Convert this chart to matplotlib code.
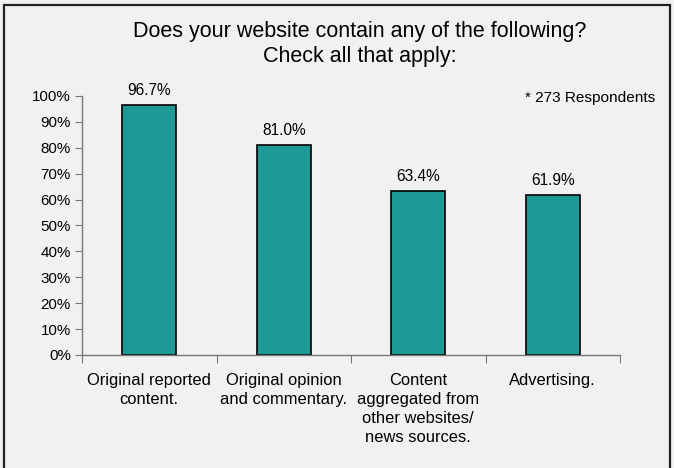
import numpy as np
import matplotlib.pyplot as plt
from matplotlib.patches import Rectangle
from matplotlib.ticker import PercentFormatter

categories = ["Original reported\ncontent.", "Original opinion\nand commentary.",
              "Content\naggregated from\nother websites/\nnews sources.", "Advertising."]
values = [96.7, 81.0, 63.4, 61.9]
yticks = list(range(0, 101, 10))

plt.rcParams['font.family'] = ['Liberation Sans', 'DejaVu Sans']
bg = '#f0f1f0'
fig = plt.figure(figsize=(6.74, 4.68), dpi=100, facecolor=bg)
ax = fig.add_axes([82/674, 1 - 355/468, 538/674, 259/468])
ax.set_facecolor(bg)

x = np.arange(len(categories))
bars = ax.bar(x, values, width=0.4, color='#1e9a96', edgecolor='black', linewidth=1.2)
for b, v in zip(bars, values):
    ax.text(b.get_x() + b.get_width()/2, v + 2.6, f"{v:.1f}%", ha='center', va='bottom', fontsize=11.2)

ax.set_xlim(-0.5, len(categories) - 0.5)
ax.set_ylim(0, 100)
ax.set_yticks(yticks)
ax.yaxis.set_major_formatter(PercentFormatter(decimals=0))
ax.set_xticks(np.arange(len(categories) + 1) - 0.5)
ax.set_xticklabels([])
ax.set_xticks(x, minor=True)
ax.set_xticklabels(categories, minor=True, fontsize=11.9, linespacing=1.32)
ax.tick_params(axis='x', which='minor', length=0, pad=13)
ax.tick_params(axis='x', which='major', length=6, color='#777777', direction='out')
ax.tick_params(axis='y', length=5, color='#777777', labelsize=10.9, pad=3)
for s in ['top', 'right']:
    ax.spines[s].set_visible(False)
for s in ['left', 'bottom']:
    ax.spines[s].set_color('#777777')
    ax.spines[s].set_linewidth(1.0)

fig.text(360/674, 1 - 44/468, "Does your website contain any of the following?\nCheck all that apply:",
         ha='center', va='center', fontsize=15.5, linespacing=1.25)
fig.text(655/674, 1 - 98/468, "* 273 Respondents", ha='right', va='center', fontsize=11.1)

fig.patches.append(Rectangle((4/674, -0.05), 666/674, 1 - 5/468 + 0.05, transform=fig.transFigure,
                             fill=False, edgecolor='#222222', linewidth=1.6))

fig.savefig('out.png', dpi=100, facecolor=bg)
